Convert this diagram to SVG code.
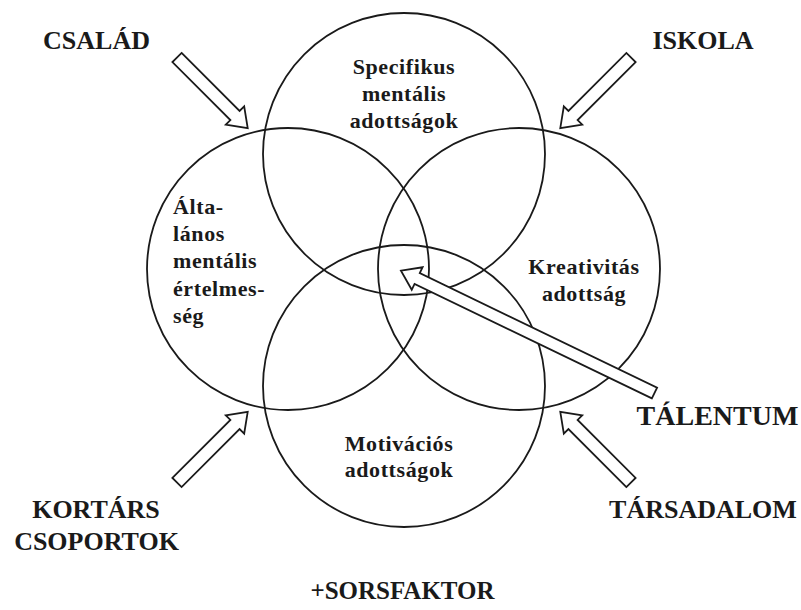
<svg xmlns="http://www.w3.org/2000/svg" width="801" height="610" viewBox="0 0 801 610">
<defs>
<style>
.c{fill:none;stroke:#1a1a1a;stroke-width:1.8}
.a{fill:#fff;stroke:#1a1a1a;stroke-width:1.8;stroke-linejoin:miter}
.big{font-family:"Liberation Serif",serif;font-weight:bold;font-size:26px;fill:#1a1a1a;text-anchor:middle}
.lbl{font-family:"Liberation Serif",serif;font-weight:bold;font-size:22px;fill:#1a1a1a;letter-spacing:0.6px}
.m{text-anchor:middle}
</style>
<path id="blk" d="M0,-6.5 H82 V-13 L100,0 L82,13 V6.5 H0 Z"/>
</defs>
<rect width="801" height="610" fill="#fff"/>
<g id="circles">
<circle id="c-top" class="c" cx="404" cy="154" r="141"/>
<circle id="c-left" class="c" cx="288" cy="269" r="141"/>
<circle id="c-right" class="c" cx="519" cy="269" r="141"/>
<circle id="c-bottom" class="c" cx="404" cy="386" r="141"/>
</g>
<g id="connectors">
<use href="#blk" class="a" transform="translate(177,57.5) rotate(45)"/>
<use href="#blk" class="a" transform="translate(631,57.5) rotate(135)"/>
<use href="#blk" class="a" transform="translate(177,482.5) rotate(-45)"/>
<use href="#blk" class="a" transform="translate(631,482.5) rotate(-135)"/>
<path class="a" d="M0,-6 H263.5 V-12.5 L281.5,0 L263.5,12.5 V6 H0 Z" transform="translate(654.5,393) rotate(205.75)"/>
</g>
<g id="n-specifikus" class="lbl m">
<text x="404" y="74">Specifikus</text>
<text x="404" y="101">mentális</text>
<text x="404" y="128">adottságok</text>
</g>
<g id="n-altalanos" class="lbl">
<text x="173" y="214">Álta-</text>
<text x="173" y="241">lános</text>
<text x="173" y="268">mentális</text>
<text x="173" y="296">értelmes-</text>
<text x="173" y="323">ség</text>
</g>
<g id="n-kreativitas" class="lbl m">
<text x="584" y="274">Kreativitás</text>
<text x="584" y="301">adottság</text>
</g>
<g id="n-motivacios" class="lbl m">
<text x="399" y="451">Motivációs</text>
<text x="399" y="477">adottságok</text>
</g>
<g id="n-csalad"><text class="big" x="96.5" y="49">CSALÁD</text></g>
<g id="n-iskola"><text class="big" x="703" y="49">ISKOLA</text></g>
<g id="n-talentum"><text class="big" x="717.5" y="425" style="font-size:28px">TÁLENTUM</text></g>
<g id="n-tarsadalom"><text class="big" x="703" y="518">TÁRSADALOM</text></g>
<g id="n-kortars">
<text class="big" x="96" y="518">KORTÁRS</text>
<text class="big" x="96.5" y="550">CSOPORTOK</text>
</g>
<g id="n-sorsfaktor"><text class="big" x="402.5" y="599" style="font-size:25px">+SORSFAKTOR</text></g>
</svg>
